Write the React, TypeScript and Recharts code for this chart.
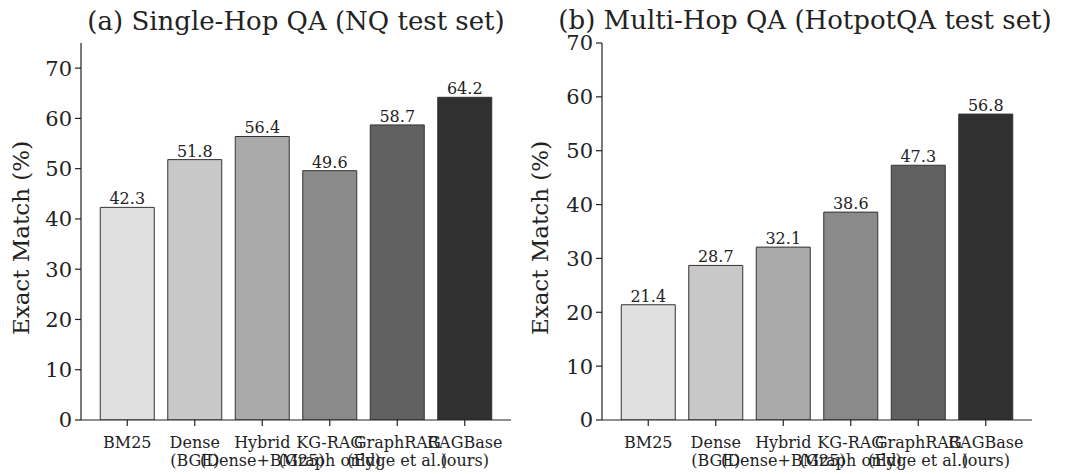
import React from 'react';
import { BarChart, Bar, XAxis, YAxis, Cell, LabelList } from 'recharts';

const methods = [
  'BM25',
  'Dense\n(BGE)',
  'Hybrid\n(Dense+BM25)',
  'KG-RAG\n(Graph only)',
  'GraphRAG\n(Edge et al.)',
  'RAGBase\n(ours)',
];
const nqScores = [42.3, 51.8, 56.4, 49.6, 58.7, 64.2];
const hotpotScores = [21.4, 28.7, 32.1, 38.6, 47.3, 56.8];
const barColors = ['#e0e0e0', '#c8c8c8', '#aaaaaa', '#8a8a8a', '#616161', '#303030'];
const yTicks = [0, 10, 20, 30, 40, 50, 60, 70];
const titles = ['(a) Single-Hop QA (NQ test set)', '(b) Multi-Hop QA (HotpotQA test set)'];

const FONT = '"DejaVu Serif", serif';
const INK = '#222';

const nqData = methods.map((m, i) => ({ method: m, score: nqScores[i] }));
const hotpotData = methods.map((m, i) => ({ method: m, score: hotpotScores[i] }));

// two-line category labels, like matplotlib's "\n" tick labels
const MethodTick = (props: any) => {
  const { x, y, payload } = props;
  const lines = String(payload.value).split('\n');
  return (
    <text x={x} y={y} textAnchor="middle" fontFamily={FONT} fontSize={16} fill={INK}>
      {lines.map((l, i) => (
        <tspan key={i} x={x} dy={i === 0 ? 20 : 18}>
          {l}
        </tspan>
      ))}
    </text>
  );
};

const YTitle = ({ x }: { x: number }) => (
  <text
    x={x}
    y={238}
    transform={`rotate(-90, ${x}, 238)`}
    textAnchor="middle"
    dominantBaseline="central"
    fontFamily={FONT}
    fontSize={23}
    fill={INK}
  >
    Exact Match (%)
  </text>
);

interface PanelProps {
  data: { method: string; score: number }[];
  width: number;
  yWidth: number;
  right: number;
  yMax: number;
  labelX: number;
}

const Panel = ({ data, width, yWidth, right, yMax, labelX }: PanelProps) => (
  <BarChart
    width={width}
    height={474}
    data={data}
    margin={{ top: 43, right, left: 0, bottom: 0 }}
    barCategoryGap="10%"
  >
    <XAxis
      dataKey="method"
      interval={0}
      height={54}
      padding={{ left: 12.5, right: 12.5 }}
      tick={<MethodTick />}
      tickSize={6}
      tickMargin={2}
      axisLine={{ stroke: INK, strokeWidth: 1.2 }}
      tickLine={{ stroke: INK, strokeWidth: 1.2 }}
    />
    <YAxis
      width={yWidth}
      domain={[0, yMax]}
      ticks={yTicks}
      allowDataOverflow
      tickSize={6}
      tickMargin={3}
      tick={{ fontFamily: FONT, fontSize: 21, fill: INK }}
      axisLine={{ stroke: INK, strokeWidth: 1.2 }}
      tickLine={{ stroke: INK, strokeWidth: 1.2 }}
      label={{ content: () => <YTitle x={labelX} /> }}
    />
    <Bar dataKey="score" stroke="#333" strokeWidth={1} isAnimationActive={false}>
      {data.map((d, i) => (
        <Cell key={d.method} fill={barColors[i]} />
      ))}
      <LabelList
        dataKey="score"
        position="top"
        offset={3}
        formatter={(v: any) => Number(v).toFixed(1)}
        style={{ fontFamily: FONT, fontSize: 16, fill: INK }}
      />
    </Bar>
  </BarChart>
);

export default function App() {
  return (
    <div style={{ position: 'fixed', left: 0, top: 0, width: 1066, height: 474, background: '#fff' }}>
      <div style={{ position: 'absolute', left: 0, top: 0 }}>
        <Panel data={nqData} width={520} yWidth={81} right={9} yMax={75} labelX={21} />
      </div>
      <div style={{ position: 'absolute', left: 520, top: 0 }}>
        <Panel data={hotpotData} width={546} yWidth={82} right={34} yMax={70} labelX={20} />
      </div>
      <svg
        width={1066}
        height={50}
        style={{ position: 'absolute', left: 0, top: 0, pointerEvents: 'none' }}
      >
        <text x={296} y={30} textAnchor="middle" fontFamily={FONT} fontSize={26} fill={INK}>
          {titles[0]}
        </text>
        <text x={805} y={29} textAnchor="middle" fontFamily={FONT} fontSize={26} fill={INK}>
          {titles[1]}
        </text>
      </svg>
    </div>
  );
}
